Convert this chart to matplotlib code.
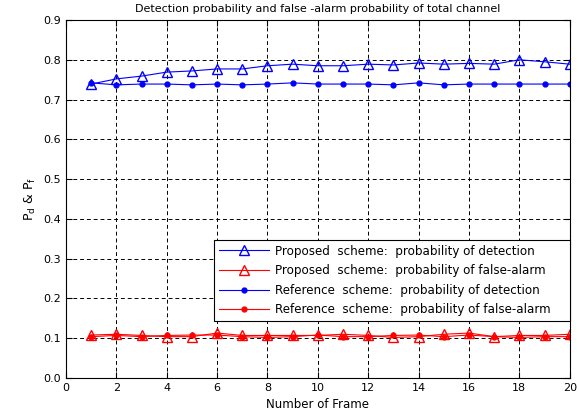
import numpy as np
import matplotlib.pyplot as plt

frames = np.arange(1, 21)
prop_pd = [0.739, 0.752, 0.759, 0.769, 0.772, 0.777, 0.777, 0.785, 0.789, 0.785,
           0.785, 0.789, 0.787, 0.792, 0.789, 0.791, 0.789, 0.800, 0.795, 0.789]
prop_pf = [0.108, 0.110, 0.107, 0.104, 0.104, 0.113, 0.107, 0.107, 0.107, 0.107,
           0.110, 0.107, 0.102, 0.104, 0.110, 0.113, 0.104, 0.107, 0.107, 0.110]
ref_pd = [0.742, 0.737, 0.739, 0.739, 0.737, 0.739, 0.737, 0.739, 0.742, 0.739,
          0.739, 0.739, 0.737, 0.742, 0.737, 0.739, 0.739, 0.739, 0.739, 0.739]
ref_pf = [0.104, 0.107, 0.104, 0.107, 0.108, 0.108, 0.104, 0.102, 0.104, 0.108,
          0.104, 0.104, 0.107, 0.108, 0.104, 0.108, 0.104, 0.102, 0.104, 0.104]

plt.rcParams['font.size'] = 8
fig = plt.figure(figsize=(5.79, 4.17), dpi=100)
ax = fig.add_axes([0.114, 0.0935, 0.870, 0.8585])

ax.plot(frames, prop_pd, '-^', color='#0000ff', mfc='none', ms=7, lw=0.8,
        label='Proposed  scheme:  probability of detection')
ax.plot(frames, prop_pf, '-^', color='#ff0000', mfc='none', ms=7, lw=0.8,
        label='Proposed  scheme:  probability of false-alarm')
ax.plot(frames, ref_pd, '-o', color='#0000ff', ms=3.5, lw=0.8,
        label='Reference  scheme:  probability of detection')
ax.plot(frames, ref_pf, '-o', color='#ff0000', ms=3.5, lw=0.8,
        label='Reference  scheme:  probability of false-alarm')

ax.set_xlim(0, 20)
ax.set_ylim(0, 0.9)
ax.set_xticks(np.arange(0, 21, 2))
ax.set_yticks(np.arange(0, 0.91, 0.1))
ax.grid(True, linestyle='--', color='black', lw=0.7, dashes=(4, 3))
ax.tick_params(direction='in', top=True, right=True, length=4)
ax.set_title('Detection probability and false -alarm probability of total channel',
             fontsize=8)
ax.set_xlabel('Number of Frame', fontsize=8.5)
ax.set_ylabel(r'P$_{\rm d}$ & P$_{\rm f}$', fontsize=9)

leg = ax.legend(loc='lower right', bbox_to_anchor=(0.294, 0.159, 0.706, 0.235),
                mode='expand', fancybox=False, edgecolor='black', framealpha=1,
                borderaxespad=0, fontsize=8.6, labelspacing=0.55, handlelength=4.2,
                handletextpad=0.5, borderpad=0.4)
leg.get_frame().set_linewidth(0.8)

fig.savefig('out.png', dpi=100)
